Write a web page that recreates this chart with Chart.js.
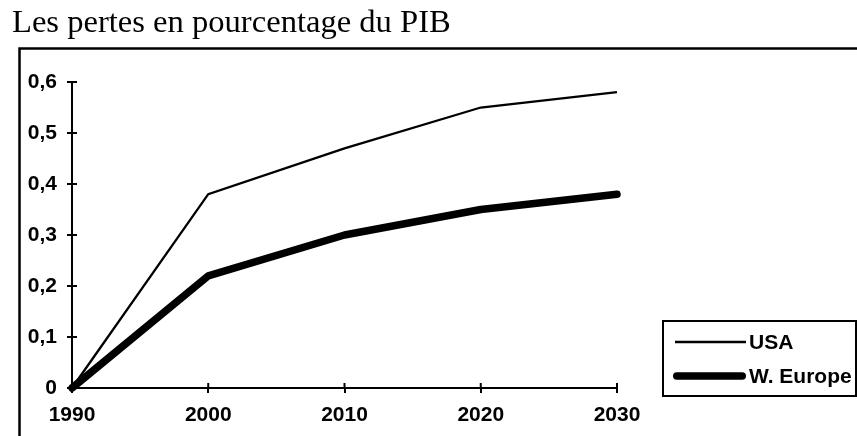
<!DOCTYPE html>
<html>
<head>
<meta charset="utf-8">
<script src="https://cdn.jsdelivr.net/npm/chart.js@4/dist/chart.umd.min.js"></script>
<style>
  html, body { margin: 0; padding: 0; background: #fff; }
  #wrap { width: 857px; height: 436px; position: relative; }
</style>
</head>
<body>
<div id="wrap"><canvas id="c" width="857" height="436"></canvas></div>
<script>
const titleText = 'Les pertes en pourcentage du PIB';
const categories = ['1990', '2000', '2010', '2020', '2030'];
const yTickLabels = ['0', '0,1', '0,2', '0,3', '0,4', '0,5', '0,6'];
const seriesNames = ['USA', 'W. Europe'];
const usaValues = [0, 0.38, 0.47, 0.55, 0.58];
const europeValues = [0, 0.22, 0.30, 0.35, 0.38];

const frameAndTicks = {
  id: 'frameAndTicks',
  beforeDraw(chart) {
    const ctx = chart.ctx;
    ctx.save();
    ctx.fillStyle = '#fff';
    ctx.fillRect(0, 0, chart.width, chart.height);
    ctx.strokeStyle = '#000';
    ctx.lineWidth = 2.5;
    ctx.beginPath();
    ctx.moveTo(19.5, chart.height + 5);
    ctx.lineTo(19.5, 48.5);
    ctx.lineTo(chart.width + 5, 48.5);
    ctx.stroke();
    ctx.restore();
  },
  afterDraw(chart) {
    const ctx = chart.ctx;
    const ca = chart.chartArea;
    const xs = chart.scales.x, ys = chart.scales.y;
    ctx.save();
    ctx.strokeStyle = '#000';
    ctx.lineWidth = 2;
    ctx.beginPath();
    ys.ticks.forEach((t, i) => {
      const y = ys.getPixelForTick(i);
      ctx.moveTo(ca.left, y);
      ctx.lineTo(ca.left + 5, y);
    });
    xs.ticks.forEach((t, i) => {
      const x = xs.getPixelForTick(i);
      ctx.moveTo(x, ca.bottom);
      ctx.lineTo(x, ca.bottom - 5);
    });
    ctx.stroke();

    // legend box
    const bx = 663, by = 321, bw = 193, bh = 75;
    ctx.lineWidth = 2;
    ctx.strokeRect(bx, by, bw, bh);
    const rows = [342, 376];
    ctx.font = 'bold 21px "Liberation Sans", Arial, sans-serif';
    ctx.textBaseline = 'middle';
    ctx.textAlign = 'left';
    ctx.fillStyle = '#000';
    chart.data.datasets.forEach((ds, i) => {
      const y = rows[i];
      ctx.beginPath();
      ctx.lineWidth = ds.borderWidth;
      ctx.lineCap = ds.borderCapStyle;
      ctx.strokeStyle = ds.borderColor;
      const inset = ds.borderWidth / 2;
      ctx.moveTo(675 + (i ? inset - 2 : 0), y);
      ctx.lineTo(746 - (i ? inset : 0), y);
      ctx.stroke();
      ctx.fillText(ds.label, 749, y + 1);
    });
    ctx.restore();
  }
};

new Chart(document.getElementById('c'), {
  type: 'line',
  data: {
    labels: categories,
    datasets: [
      {
        label: seriesNames[0],
        data: usaValues,
        borderColor: '#000',
        borderWidth: 2.3,
        borderCapStyle: 'butt',
        pointRadius: 0,
        tension: 0,
        clip: false
      },
      {
        label: seriesNames[1],
        data: europeValues,
        borderColor: '#000',
        borderWidth: 7.5,
        borderCapStyle: 'round',
        borderJoinStyle: 'round',
        pointRadius: 0,
        tension: 0,
        clip: false
      }
    ]
  },
  options: {
    responsive: false,
    animation: false,
    devicePixelRatio: 1,
    layout: { padding: { left: 12, right: 240, top: 0, bottom: 0 } },
    plugins: {
      legend: { display: false },
      tooltip: { enabled: false },
      title: {
        display: true,
        text: titleText,
        align: 'start',
        color: '#000',
        font: { family: '"Liberation Serif", "Times New Roman", serif', size: 32.6, weight: 'normal', lineHeight: 1.2 },
        padding: { top: 3.5, bottom: 39.4 }
      }
    },
    scales: {
      x: {
        type: 'category',
        offset: false,
        grid: { display: true, drawOnChartArea: false, drawTicks: true, tickLength: 5, color: '#000', lineWidth: 2 },
        border: { display: true, color: '#000', width: 2 },
        ticks: {
          color: '#000',
          padding: 10,
          maxRotation: 0,
          autoSkip: false,
          font: { family: '"Liberation Sans", Arial, sans-serif', size: 21, weight: 'bold' }
        },
        afterFit(scale) { scale.height = 48; }
      },
      y: {
        min: 0,
        max: 0.6,
        grid: { display: true, drawOnChartArea: false, drawTicks: true, tickLength: 5, color: '#000', lineWidth: 2 },
        border: { display: true, color: '#000', width: 2 },
        ticks: {
          stepSize: 0.1,
          color: '#000',
          padding: 10,
          font: { family: '"Liberation Sans", Arial, sans-serif', size: 21, weight: 'bold' },
          callback: (v, i) => yTickLabels[i]
        },
        afterFit(scale) { scale.width = 60; }
      }
    }
  },
  plugins: [frameAndTicks]
});
</script>
</body>
</html>
